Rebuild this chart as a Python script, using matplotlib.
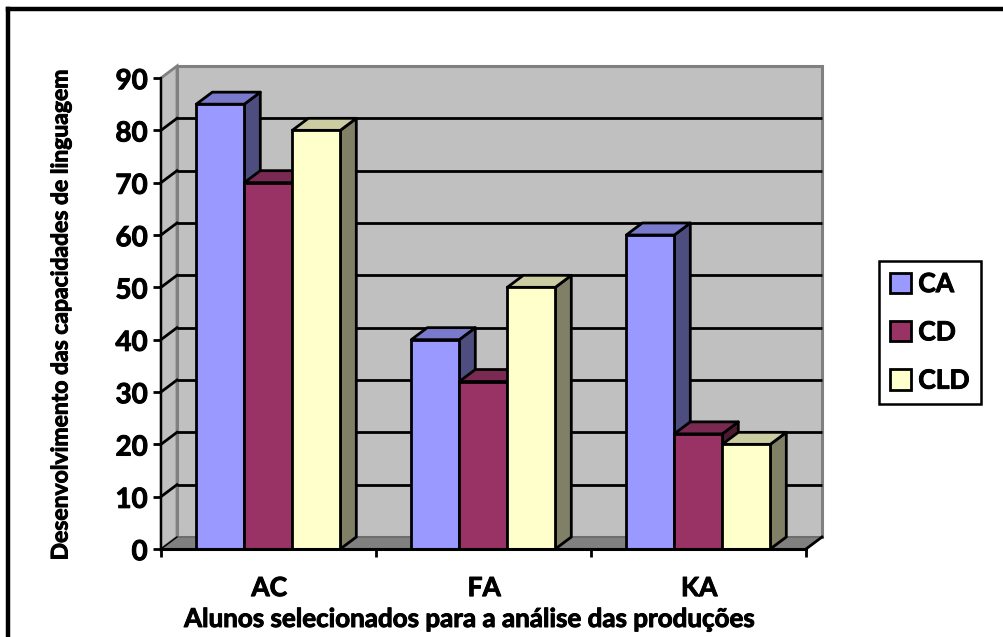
import matplotlib
matplotlib.use("Agg")
import matplotlib.pyplot as plt
import matplotlib.patheffects as pe
from matplotlib.patches import Patch, Polygon, Rectangle
from matplotlib.lines import Line2D

categories = ["AC", "FA", "KA"]
series_names = ["CA", "CD", "CLD"]
ca_values = [85, 40, 60]
cd_values = [70, 32, 22]
cld_values = [80, 50, 20]
y_ticks = [0, 10, 20, 30, 40, 50, 60, 70, 80, 90]

FRONT = ["#9999FF", "#993366", "#FFFFCC"]
TOP = ["#7A7ACC", "#7A2952", "#CCCCA3"]
SIDE = ["#4D4D80", "#4D1A33", "#808066"]
WALL = "#C0C0C0"
FLOOR = "#808080"
FONT = "Lato"
BOLD = [pe.withStroke(linewidth=0.7, foreground="black")]

W, H = 1004, 637
fig = plt.figure(figsize=(W / 100, H / 100), dpi=100, facecolor="white")
L, R, T, B = 161, 806, 78, 549
ax = fig.add_axes([L / W, 1 - B / H, (R - L) / W, (B - T) / H])
ax.set_xlim(0, 3)
ax.set_ylim(0, 90)
ax.set_axis_off()

dx = 16 / ((R - L) / 3)
dy = 12 / ((B - T) / 90)
bar_w = 48 / ((R - L) / 3)
ymax = 90

# walls and floor
ax.add_patch(Polygon([(dx, dy), (3 + dx, dy), (3 + dx, ymax + dy), (dx, ymax + dy)],
                     fc=WALL, ec=FLOOR, lw=2.2, clip_on=False, zorder=1))
ax.add_patch(Polygon([(0, 0), (dx, dy), (dx, ymax + dy), (0, ymax)],
                     fc=WALL, ec=FLOOR, lw=2, clip_on=False, zorder=1))
ax.add_patch(Polygon([(0, 0), (3, 0), (3 + dx, dy), (dx, dy)],
                     fc=FLOOR, ec="#666666", lw=1, clip_on=False, zorder=1.5))

# gridlines
for v in y_ticks[1:-1]:
    ax.plot([dx, 3 + dx], [v + dy, v + dy], color="black", lw=2, clip_on=False,
            solid_capstyle="butt", zorder=2)
for v in y_ticks[1:-1]:
    ax.plot([0, dx], [v, v + dy], color="black", lw=2, clip_on=False, zorder=2)
ax.plot([0, dx], [0, dy], color="black", lw=1, clip_on=False, zorder=2)
ax.plot([3, 3 + dx], [0, dy], color="black", lw=2, clip_on=False, zorder=2)
ax.plot([0, 0], [0, ymax], color="black", lw=1.6, clip_on=False, zorder=2.1)

# bars with a depth face
z = 3.0
for ci in range(len(categories)):
    x0 = ci + 35.3 / ((R - L) / 3)
    for si, vals in enumerate([ca_values, cd_values, cld_values]):
        v = vals[ci]
        xa = x0 + si * bar_w
        xb = xa + bar_w
        ax.add_patch(Polygon([(xb, 0), (xb + dx, dy), (xb + dx, v + dy), (xb, v)],
                             fc=SIDE[si], ec="black", lw=2, joinstyle="round",
                             clip_on=False, zorder=z))
        ax.add_patch(Polygon([(xa, v), (xb, v), (xb + dx, v + dy), (xa + dx, v + dy)],
                             fc=TOP[si], ec="black", lw=2, joinstyle="round",
                             clip_on=False, zorder=z + 0.1))
        ax.add_patch(Rectangle((xa, 0), bar_w, v, fc=FRONT[si], ec="black", lw=2,
                               clip_on=False, zorder=z + 0.2))
        z += 1

# axis line and ticks
ax.plot([0, 3], [0, 0], color="black", lw=2.2, clip_on=False, zorder=z)
tick_kw = dict(color="black", lw=2, clip_on=False, zorder=z, solid_capstyle="butt")
trans_y = ax.get_yaxis_transform()
for v in y_ticks:
    ax.plot([-8 / (R - L), 0], [v, v], transform=trans_y, **tick_kw)
    ax.annotate(str(v), (0, v), xycoords=trans_y, xytext=(-9.5, -0.5),
                textcoords="offset points", ha="right", va="center_baseline",
                fontsize=20, fontweight="bold", family=FONT, path_effects=BOLD)
trans_x = ax.get_xaxis_transform()
for x in range(4):
    ax.plot([x, x], [-8 / (B - T), 0], transform=trans_x, **tick_kw)
for i, c in enumerate(categories):
    ax.annotate(c, (i + 0.5, 0), xycoords=trans_x, xytext=(0.5, -19.5),
                textcoords="offset points", ha="center", va="top",
                fontsize=19, fontweight="bold", family=FONT, path_effects=BOLD)

fig.text(470 / W, 1 - 619 / H, "Alunos selecionados para a análise das produções",
         ha="center", va="center", fontsize=18.7, fontweight="bold", family=FONT,
         path_effects=BOLD)
fig.text(61 / W, 1 - 316 / H, "Desenvolvimento das capacidades de linguagem",
         ha="center", va="center", rotation=90, fontsize=16.5, fontweight="bold",
         family=FONT, path_effects=BOLD)

# legend
handles = [Patch(fc=FRONT[i], ec="black", lw=2, label=series_names[i]) for i in range(3)]
leg = fig.legend(handles=handles, loc="upper left",
                 bbox_to_anchor=(879 / W, 1 - 261 / H), borderaxespad=0,
                 frameon=True, fancybox=False, edgecolor="black", framealpha=1,
                 prop={"family": FONT, "weight": "bold", "size": 19},
                 handlelength=0.8, handleheight=0.8, handletextpad=0.27,
                 labelspacing=0.92, borderpad=0.42)
leg.get_frame().set_linewidth(1.8)
for t in leg.get_texts():
    t.set_path_effects(BOLD)

# outer frame
fig.add_artist(Line2D([8 / W, 8 / W], [0, 1 - 8.5 / H], color="black", lw=3.2,
                      solid_capstyle="projecting"))
fig.add_artist(Line2D([8 / W, 1], [1 - 8.5 / H, 1 - 8.5 / H], color="black", lw=3.2,
                      solid_capstyle="projecting"))

fig.savefig("out.png", dpi=100)
